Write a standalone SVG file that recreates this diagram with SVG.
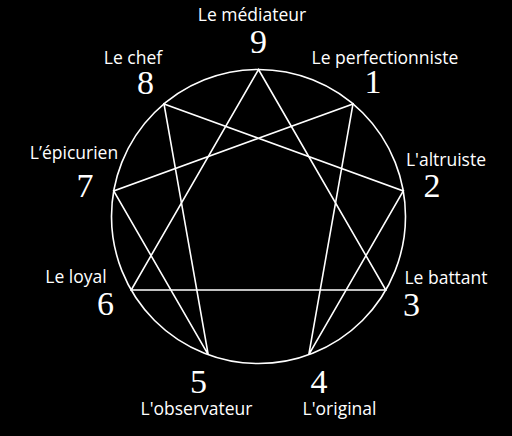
<svg xmlns="http://www.w3.org/2000/svg" width="512" height="436" viewBox="0 0 512 436">
<style>
.ln{fill:none;stroke:#fff;stroke-width:1.6;stroke-linejoin:miter}
.lb{font-family:"Open Sans","Noto Sans",sans-serif;font-size:17.5px;fill:#fff;text-anchor:middle}
.nm{font-family:"Liberation Serif","DejaVu Serif",serif;font-size:34px;fill:#fff;text-anchor:middle}
</style>
<rect width="512" height="436" fill="#000"/>
<g id="connectors">
<circle class="ln" cx="258.5" cy="216.5" r="147"/>
<polygon class="ln" points="258.5,69.5 385.8,290 131.2,290"/>
<polygon class="ln" points="353,103.9 308.8,354.6 403.3,191 164,103.9 208.2,354.6 113.7,191"/>
</g>
<g id="n9"><text class="lb" x="252" y="21">Le médiateur</text><text class="nm" x="258.5" y="53">9</text></g>
<g id="n1"><text class="lb" x="385" y="64">Le perfectionniste</text><text class="nm" x="373" y="93">1</text></g>
<g id="n2"><text class="lb" x="446" y="166">L'altruiste</text><text class="nm" x="432" y="197">2</text></g>
<g id="n3"><text class="lb" x="446" y="284">Le battant</text><text class="nm" x="411.5" y="316">3</text></g>
<g id="n4"><text class="lb" x="339.5" y="415">L'original</text><text class="nm" x="319" y="393">4</text></g>
<g id="n5"><text class="lb" x="196.5" y="415">L'observateur</text><text class="nm" x="198.5" y="393">5</text></g>
<g id="n6"><text class="lb" x="76" y="283">Le loyal</text><text class="nm" x="105.5" y="315">6</text></g>
<g id="n7"><text class="lb" x="74" y="159">L’épicurien</text><text class="nm" x="85" y="197">7</text></g>
<g id="n8"><text class="lb" x="133" y="64">Le chef</text><text class="nm" x="145.5" y="94">8</text></g>
</svg>
